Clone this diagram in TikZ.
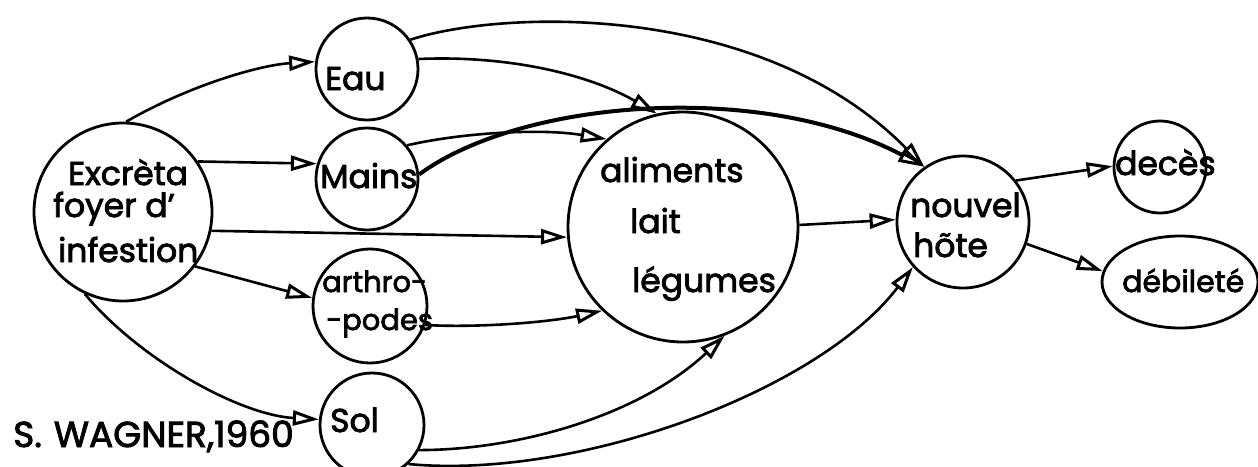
\documentclass[tikz,border=0pt]{standalone}
\usepackage{fontspec}
\setmainfont{Poppins}[FakeBold=2.5]
\usetikzlibrary{arrows.meta,shapes.geometric}
\begin{document}
\begin{tikzpicture}[x=1pt,y=-1pt,
  bub/.style={draw, circle, line width=2.8pt, inner sep=0pt},
  lbl/.style={anchor=base west, inner sep=0pt, font=\fontsize{33}{40}\selectfont},
  arr/.style={line width=2.6pt, -{Triangle[open, length=26pt, width=15pt, line width=3pt]}},
  thick arr/.style={arr, line width=4pt}
]
\useasboundingbox (0,0) rectangle (1258,466);

% bubbles
\node[bub, minimum size=178pt] (exc) at (123,212) {};
\node[bub, minimum size=102pt] (eau) at (367,69) {};
\node[bub, minimum size=102pt] (mai) at (367,179) {};
\node[bub, minimum size=114pt] (art) at (370,306) {};
\node[bub, minimum size=104pt] (sol) at (372,425) {};
\node[bub, minimum size=230pt] (ali) at (683,227) {};
\node[bub, minimum size=132pt] (nou) at (963,222) {};
\node[bub, minimum size=92pt] (dec) at (1160,167) {};
\node[draw, ellipse, line width=2.8pt, minimum width=156pt, minimum height=92pt, inner sep=0pt] (deb) at (1180,282) {};

% texts
\node[lbl] (t1) at (68,185) {Excrèta};
\node[lbl] (t2) at (53,217) {foyer d'};
\node[lbl] (t3) at (58,262) {infestion};
\node[lbl] (t4) at (325,90) {Eau};
\node[lbl] (t5) at (320,188) {Mains};
\node[lbl, font=\fontsize{29}{40}\selectfont] (t6) at (322,292) {arthro-};
\node[lbl, font=\fontsize{29}{40}\selectfont] (t7) at (326,330) {-podes};
\node[lbl] (t8) at (330,432) {Sol};
\node[lbl, font=\fontsize{36}{40}\selectfont] (t9) at (13,447) {S.\hspace{12pt}WAGNER,1960};
\node[lbl] (t10) at (600,182) {aliments};
\node[lbl] (t11) at (630,233) {lait};
\node[lbl] (t12) at (632,292) {légumes};
\node[lbl] (t13) at (910,217) {nouvel};
\node[lbl] (t14) at (913,257) {hõte};
\node[lbl] (t15) at (1115,175) {decès};
\node[lbl, font=\fontsize{30}{40}\selectfont] (t16) at (1122,292) {débileté};

% connectors
\draw[arr] (exc.88) .. controls (190,85) and (260,65) .. (eau.172);
\draw[arr] (exc.34) -- (mai.163);
\draw[arr] (exc.-12) -- (ali.185);
\draw[arr] (exc.-37) -- (art.172);
\draw[arr] (exc.-115) .. controls (140,360) and (240,415) .. (sol.174);

\draw[arr] (eau.34) .. controls (500,10) and (760,0) .. (nou.125);
\draw[arr] (eau.11) .. controls (510,55) and (590,75) .. (ali.103);
\draw[thick arr] (mai.5) .. controls (520,100) and (760,80) .. (nou.125);
\draw[arr] (mai.40) .. controls (460,133) and (540,128) .. (ali.131);
\draw[arr] (art.-19) .. controls (480,328) and (550,322) .. (ali.226);
\draw[arr] (sol.-28) .. controls (520,450) and (640,415) .. (ali.-69);
\draw[arr] (sol.-47) .. controls (580,480) and (820,390) .. (nou.222);

\draw[arr] (ali.1) -- (nou.178);
\draw[arr] (nou.38) -- (dec.179);
\draw[arr] (nou.-19) -- (deb.172);
\end{tikzpicture}
\end{document}
